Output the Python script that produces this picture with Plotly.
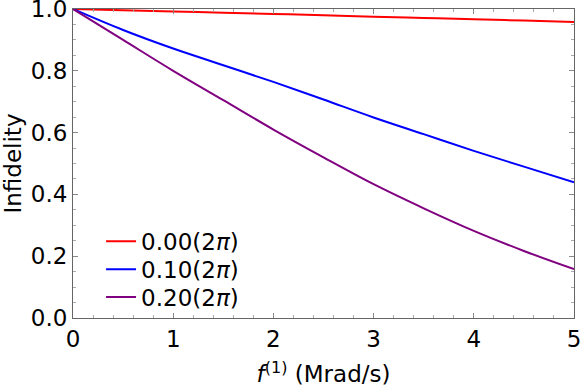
import plotly.graph_objects as go

f_vals = [0.0, 0.5, 1.0, 1.5, 2.0, 2.5, 3.0, 3.5, 4.0, 4.5, 5.0]
infid_000 = [1.0, 0.996, 0.992, 0.988, 0.984, 0.980, 0.975, 0.971, 0.967, 0.9625, 0.958]
infid_010 = [1.0, 0.932, 0.872, 0.818, 0.764, 0.707, 0.649, 0.595, 0.541, 0.490, 0.439]
infid_020 = [1.0, 0.900, 0.800, 0.705, 0.610, 0.520, 0.433, 0.355, 0.282, 0.217, 0.158]
labels = ["0.00(2<i>π</i>)", "0.10(2<i>π</i>)", "0.20(2<i>π</i>)"]
colors = ["#ff0000", "#0000ff", "#800080"]
x_ticks = [0, 1, 2, 3, 4, 5]
y_ticks = [0, 0.2, 0.4, 0.6, 0.8, 1.0]
y_ticktext = ["0.0", "0.2", "0.4", "0.6", "0.8", "1.0"]

legend_names = ["legend", "legend2", "legend3"]
legend_y = [0.248, 0.158, 0.068]

fig = go.Figure()
for ys, lab, col, lg in zip([infid_000, infid_010, infid_020], labels, colors, legend_names):
    fig.add_trace(go.Scatter(x=f_vals, y=ys, mode="lines", name=lab, legend=lg,
                             showlegend=True,
                             line=dict(color=col, width=2, shape="spline")))

axis_common = dict(showgrid=False, zeroline=False, showline=True, linecolor="#666666",
                   linewidth=1, mirror="allticks", ticks="inside", ticklen=5,
                   tickcolor="#888888", tickfont=dict(size=23, color="black"),
                   ticklabeloverflow="allow", automargin=False)
fig.update_xaxes(range=[0, 5], tickvals=x_ticks,
                 minor=dict(ticks="inside", ticklen=3, dtick=0.2, tickcolor="#aaaaaa"),
                 title=dict(text="<i>f</i><sup>(1)</sup> (Mrad/s)", font=dict(size=23), standoff=15),
                 **axis_common)
fig.update_yaxes(range=[0, 1], tickvals=y_ticks, ticktext=y_ticktext,
                 minor=dict(ticks="inside", ticklen=3, dtick=0.05, tickcolor="#aaaaaa"),
                 title=dict(text="Infidelity", font=dict(size=23), standoff=15),
                 **axis_common)

legend_style = dict(x=0.056, xanchor="left", yanchor="middle", bgcolor="rgba(0,0,0,0)",
                    font=dict(size=23), itemwidth=30)
fig.update_layout(width=581, height=389, margin=dict(l=73, r=7, t=9, b=71),
                  showlegend=True,
                  paper_bgcolor="white", plot_bgcolor="white",
                  font=dict(family="DejaVu Sans", color="black"),
                  legend=dict(y=legend_y[0], **legend_style),
                  legend2=dict(y=legend_y[1], **legend_style),
                  legend3=dict(y=legend_y[2], **legend_style))
fig.write_html("out.html", config={"displayModeBar": False},
               post_script="document.body.style.margin='0';")
